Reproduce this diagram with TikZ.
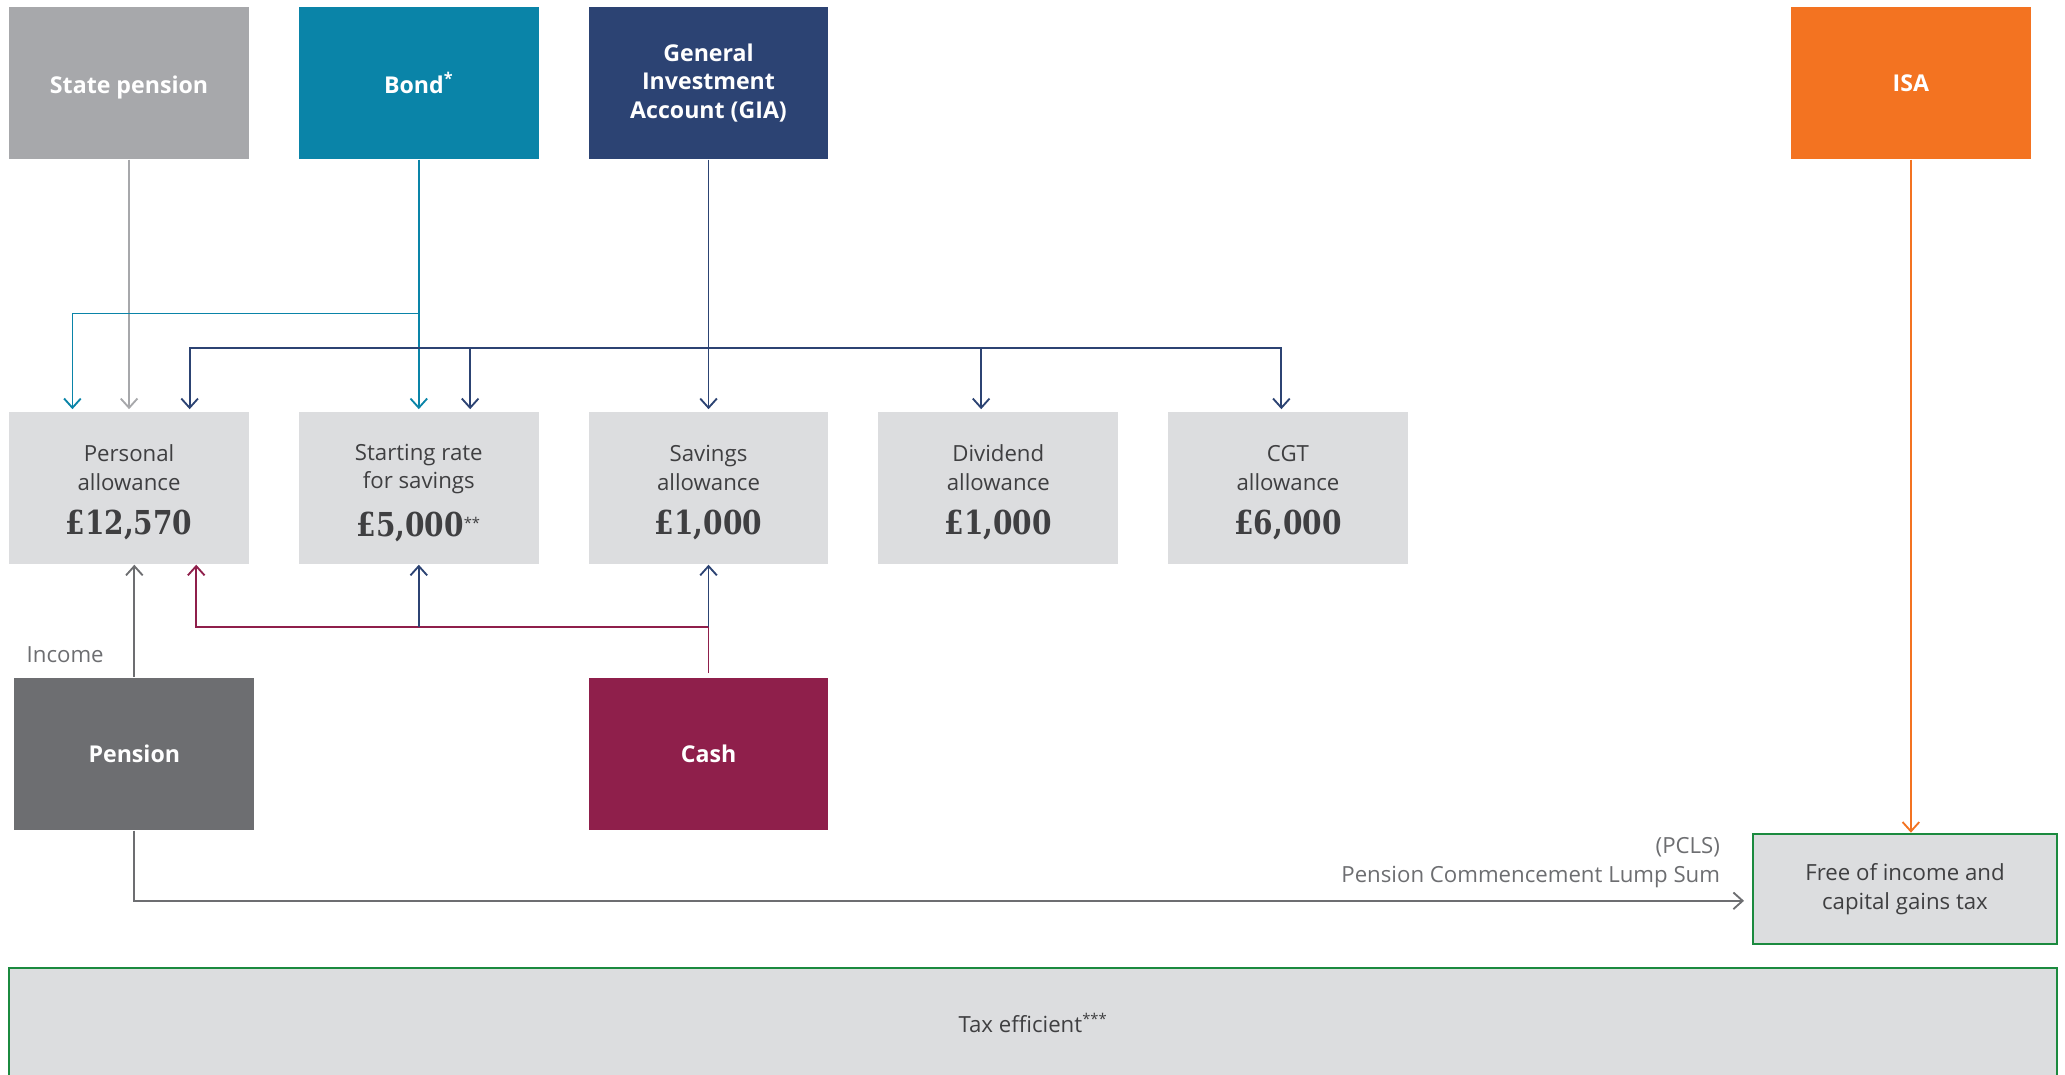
\documentclass[tikz,border=0pt]{standalone}
\usepackage{fontspec}
\setmainfont{Open Sans}
\newfontfamily\numfont[FakeStretch=0.85]{DejaVu Serif}
\usetikzlibrary{arrows.meta,calc}

\definecolor{stategrey}{HTML}{A7A8AB}
\definecolor{bondblue}{HTML}{0A84A8}
\definecolor{gianavy}{HTML}{2C4373}
\definecolor{isaorange}{HTML}{F37321}
\definecolor{pensiongrey}{HTML}{6D6E71}
\definecolor{cashred}{HTML}{8F1F4B}
\definecolor{boxgrey}{HTML}{DCDDDF}
\definecolor{edgegreen}{HTML}{1B8A3F}
\definecolor{textgrey}{HTML}{3F3F41}

\newcommand{\amount}[1]{{\numfont\bfseries\fontsize{17.8}{20}\selectfont #1}}
\newcommand{\topline}{\rule{0pt}{14pt}}

\begin{document}
\begin{tikzpicture}[x=0.025cm, y=-0.025cm,
    source/.style={minimum width=4.55cm, minimum height=2.9cm, inner sep=0pt, align=center,
        text=white, font=\bfseries\fontsize{12.5}{15.6}\selectfont},
    allow/.style={fill=boxgrey, minimum width=4.55cm, minimum height=2.9cm, inner sep=0pt, align=center,
        text=textgrey, font=\fontsize{12}{15.6}\selectfont},
    result/.style={fill=boxgrey, draw=edgegreen, line width=1pt, inner sep=0pt, align=center,
        text=textgrey, font=\fontsize{12}{15.6}\selectfont},
    note/.style={text=pensiongrey, font=\fontsize{12}{15.6}\selectfont},
    link/.style={line width=1pt, -{Straight Barb[length=5pt,width=9pt]}},
    plain/.style={line width=1pt}]
    \useasboundingbox (0,0) rectangle (1568,816);

    % Sources
    \node[source, fill=stategrey] (state) at (98,63) {\topline State pension};
    \node[source, fill=bondblue] (bond) at (318,63) {Bond\textsuperscript{*}};
    \node[source, fill=gianavy] (gia) at (538,63) {General\\Investment\\Account (GIA)};
    \node[source, fill=isaorange] (isa) at (1451,63) {ISA};

    % Allowances
    \node[allow] (pers) at (98,370.5) {\topline Personal\\allowance\\[8.5pt]\amount{£12,570}};
    \node[allow] (start) at (318,370.5) {\topline Starting rate\\for savings\\[8.5pt]\amount{£5,000}\smash{\textsuperscript{**}}};
    \node[allow] (save) at (538,370.5) {\topline Savings\\allowance\\[8.5pt]\amount{£1,000}};
    \node[allow] (divi) at (758,370.5) {\topline Dividend\\allowance\\[8.5pt]\amount{£1,000}};
    \node[allow] (cgt) at (978,370.5) {\topline CGT\\allowance\\[8.5pt]\amount{£6,000}};

    % Lower sources
    \node[source, fill=pensiongrey] (pension) at (102,572.5) {Pension};
    \node[source, fill=cashred] (cash) at (538,572.5) {Cash};

    % Results
    \node[result, minimum width=5.775cm, minimum height=2.1cm] (free) at (1446.5,675) {Free of income and\\capital gains tax};
    \node[result, minimum width=38.875cm, minimum height=2.1cm] (tax) at (784.5,777) {Tax efficient\textsuperscript{***}};

    % Labels
    \node[note] (income) at (49.5,497) {Income};
    \node[note, anchor=east, align=right] (pcls) at (1311,655) {(PCLS)\\Pension Commencement Lump Sum};

    % Junctions
    \coordinate (bondj) at (318,238);
    \coordinate (giaj) at (538,264);
    \coordinate (cashj) at (538,476);

    % State pension
    \draw[link, stategrey] (state.south) -- ($(pers.north)+(0,-1.5)$);

    % Bond
    \draw[link, bondblue] (bond.south) -- ($(start.north)+(0,-1.5)$);
    \draw[link, bondblue] (bondj) -| ($(pers.north)+(-43,-1.5)$);

    % GIA
    \draw[link, gianavy] (gia.south) -- ($(save.north)+(0,-1.5)$);
    \draw[link, gianavy] (giaj) -| ($(pers.north)+(46,-1.5)$);
    \draw[link, gianavy] (giaj) -| ($(start.north)+(39,-1.5)$);
    \draw[link, gianavy] (giaj) -| ($(divi.north)+(-13,-1.5)$);
    \draw[link, gianavy] (giaj) -| ($(cgt.north)+(-5,-1.5)$);

    % ISA
    \draw[link, isaorange] (isa.south) -- (isa.south |- free.north);

    % Pension
    \draw[link, pensiongrey] (pension.north) -- (pension.north |- pers.south);
    \draw[link, pensiongrey] (pension.south) |- ($(free.west)+(-6,9)$);

    % Cash
    \draw[plain, cashred] ($(cash.north)+(0,-3)$) -- (cashj);
    \draw[link, cashred] (cashj) -| ($(pers.south)+(51,0)$);
    \draw[link, gianavy] (cashj) -- (save.south);
    \draw[link, gianavy] (cashj -| start.south) -- (start.south);
\end{tikzpicture}
\end{document}
